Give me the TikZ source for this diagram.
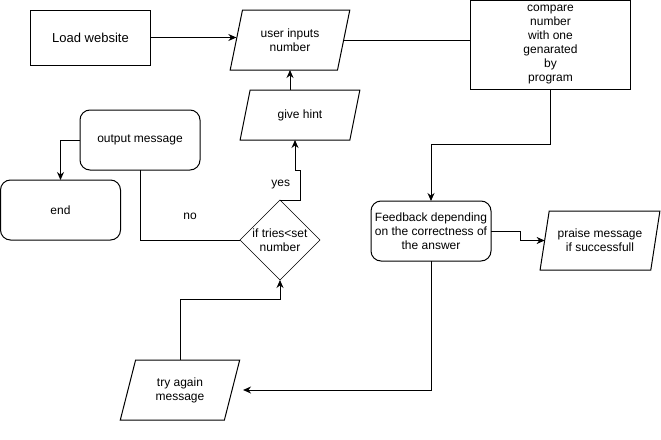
\documentclass[tikz,border=0pt]{standalone}
\usepackage{fontspec}
\setmainfont{Liberation Sans}
\usepackage{tikz}
\usetikzlibrary{positioning, shapes.geometric, arrows.meta}
\tikzset{
    base/.style={draw=black, line width=1pt, inner sep=0pt, outer sep=0pt, align=center, font=\fontsize{12}{14}\selectfont},
    proc/.style={base, rectangle, minimum width=120pt, minimum height=60pt},
    rproc/.style={proc, rounded corners=10pt},
    io/.style={base, trapezium, trapezium stretches=true, trapezium left angle=71.57, trapezium right angle=108.43, minimum width=120pt, minimum height=60pt},
    decision/.style={base, diamond, line width=0.5pt, minimum width=80pt, minimum height=80pt},
    flow/.style={line width=1pt, -{Stealth[length=8pt, width=7pt]}},
    link/.style={line width=1pt},
}

\begin{document}
\begin{tikzpicture}[x=1pt, y=-1pt]
        \useasboundingbox (0,0) rectangle (661,439);
        \node [proc, minimum height=55pt, font=\fontsize{13}{15}\selectfont] (load) at (90.5,37.5) {Load website};
        \node [io] (inp) at (290,40) {user inputs\\number};
        \node [proc, minimum width=160pt, minimum height=89pt] (cmp) at (550.5,45) {compare\\number\\with one\\genarated\\by\\program};
        \node [io, minimum height=50pt, trapezium left angle=68.2, trapezium right angle=111.8] (hint) at (300,115) {give hint};
        \node [rproc] (msg) at (140,140) {output message};
        \node [rproc] (stop) at (60.5,210) {end};
        \node [decision, label={[font=\fontsize{12}{14}\selectfont, align=center]center:if tries<set\\number}] (dec) at (280,240) {};
        \node [rproc] (fb) at (431,231) {Feedback depending\\on the correctness of\\the answer};
        \node [io, minimum height=59pt] (praise) at (600,240.5) {praise message\\if successfull};
        \node [io] (try) at (180,390) {try again\\message};
        \draw[flow] (load.east) -- (load.east -| inp.west);
        \draw[link] (inp.east) -- (inp.east -| cmp.west);
        \draw[flow] (cmp.south) -- ++(0,55) -| (fb.north);
        \draw[flow] (fb.east) -- ++(29,0) |- (praise.west);
        \draw[flow, shorten >=11pt] (fb.south) |- (try.east);
        \draw[flow] (try.north) -- ++(0,-60) -| (dec.south);
        \draw[flow] (dec.north) -- ++(20,0) -- node[midway, left=6pt, font=\fontsize{12}{14}\selectfont] {yes} ++(0,-30) -| (hint.bottom side);
        \draw[flow] (hint.north -| inp.south) -- (inp.south);
        \draw[link] (dec.west) -| node[pos=0.25, yshift=24pt, font=\fontsize{12}{14}\selectfont] {no} (msg.south);
        \draw[flow] (msg.west) -| (stop.north);
    \end{tikzpicture}
\end{document}
